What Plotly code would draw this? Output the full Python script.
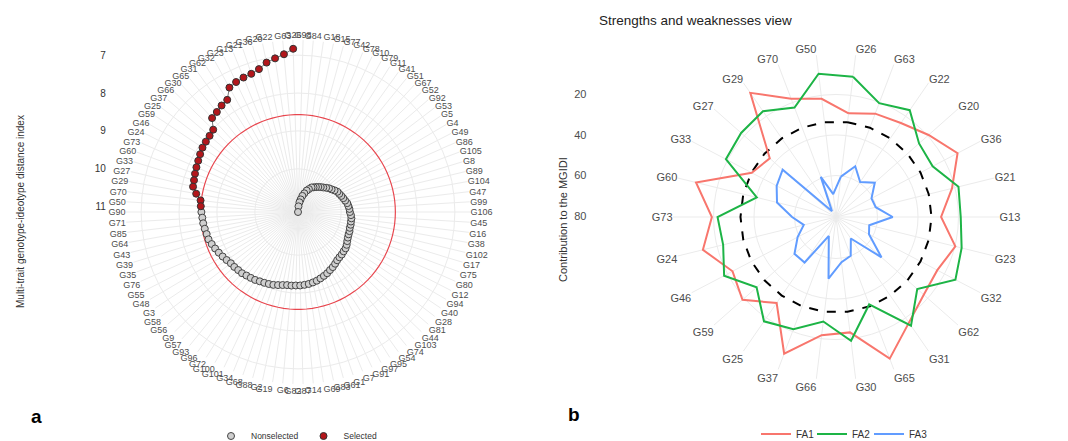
import plotly.graph_objects as go

# ---------------- Panel a : MGIDI (genotypes in plotting order) ----------------
selected_genotypes = ["G26", "G63", "G22", "G20", "G36", "G21", "G13", "G23", "G32", "G62",
                      "G31", "G65", "G30", "G66", "G37", "G25", "G59", "G46", "G24", "G73",
                      "G60", "G33", "G27", "G29", "G70", "G50"]
selected_mgidi = [6.83, 6.96, 7.04, 7.11, 7.23, 7.29, 7.31, 7.34, 7.39, 7.64,
                  7.68, 7.74, 7.78, 8.02, 8.06, 8.08, 8.10, 8.14, 8.18, 8.21,
                  8.24, 8.27, 8.29, 8.41, 8.55, 8.57]

nonselected_genotypes = ["G90", "G71", "G85", "G64", "G43", "G39", "G35", "G76", "G55", "G48",
                         "G3", "G58", "G56", "G9", "G57", "G93", "G96", "G72", "G100",
                         "G101", "G34", "G68", "G88", "G2", "G19", "G6", "G82", "G87", "G14",
                         "G69", "G83", "G61",
                         "G1", "G7", "G91", "G97", "G95", "G54", "G74", "G103", "G44", "G81",
                         "G28", "G40", "G94", "G12", "G80", "G75", "G17", "G102", "G38", "G16",
                         "G45", "G106", "G99", "G47", "G104", "G89", "G8", "G105", "G86", "G49",
                         "G4", "G5", "G53", "G92", "G52", "G67", "G51", "G41", "G11", "G79",
                         "G10", "G78", "G42", "G77", "G15", "G18", "G84", "G98"]
nonselected_mgidi = [8.59, 8.61, 8.62, 8.64, 8.66, 8.67, 8.71, 8.75, 8.79, 8.83,
                     8.87, 8.91, 8.92, 8.94, 8.95, 8.98, 9.00, 9.02, 9.05, 9.07,
                     9.09, 9.11, 9.14, 9.17, 9.19, 9.19, 9.20, 9.20, 9.21, 9.22,
                     9.24, 9.26, 9.29, 9.32, 9.35, 9.39, 9.42, 9.46, 9.50, 9.52,
                     9.53, 9.55, 9.56, 9.59, 9.63, 9.66, 9.68, 9.69, 9.71, 9.71,
                     9.72, 9.72, 9.74, 9.77, 9.78, 9.80, 9.82, 9.86, 9.89, 9.92,
                     9.95, 9.97, 10.02, 10.07, 10.11, 10.16, 10.21, 10.25, 10.29, 10.33,
                     10.37, 10.40, 10.47, 10.53, 10.62, 10.70, 10.80, 10.88, 10.99, 11.14]
mgidi_ticks = [7, 8, 9, 10, 11]

# ---------------- Panel b : strengths and weaknesses ----------------
sw_genotypes = ["G26", "G63", "G22", "G20", "G36", "G21", "G13", "G23", "G32", "G62",
                "G31", "G65", "G30", "G66", "G37", "G25", "G59", "G46", "G24", "G73",
                "G60", "G33", "G27", "G29", "G70", "G50"]
fa1 = [28.9, 25.9, 24.1, 19.4, 12.7, 21.5, 28.6, 19.8, 24.0, 22.6,
       17.1, 5.7, 23.1, 21.7, 8.3, 28.9, 18.8, 22.8, 12.8, 19.2,
       9.3, 33.5, 36.8, 6.0, 18.0, 21.7]
fa2 = [10.7, 20.4, 16.4, 25.7, 26.6, 18.2, 18.9, 16.6, 13.9, 26.9,
       15.3, 34.3, 18.9, 28.5, 21.2, 17.9, 28.1, 18.1, 23.1, 22.0,
       40.2, 19.1, 17.9, 17.0, 22.7, 9.2]
fa3 = [60.4, 53.7, 59.5, 54.9, 60.7, 60.3, 52.5, 63.6, 62.1, 50.5,
       67.6, 60.0, 58.0, 49.8, 70.5, 53.2, 53.1, 59.1, 64.1, 58.8,
       50.5, 47.4, 45.3, 77.0, 59.3, 69.1]
factor_names = ["FA1", "FA2", "FA3"]
factor_colors = ["#F8766D", "#1DB446", "#619CFF"]
equal_contribution = 100 / 3
contrib_ticks = [20, 40, 60, 80]

W, H = 1068, 441
all_genotypes = selected_genotypes + nonselected_genotypes
all_mgidi = selected_mgidi + nonselected_mgidi
cutoff = max(selected_mgidi)

fig = go.Figure()

# path through all genotypes
fig.add_trace(go.Scatterpolar(r=all_mgidi, theta=all_genotypes, mode="lines",
                              line=dict(color="#555555", width=0.8), subplot="polar",
                              showlegend=False, hoverinfo="skip"))
# cutoff circle
fig.add_trace(go.Scatterpolar(r=[cutoff] * (len(all_genotypes) + 1),
                              theta=all_genotypes + [all_genotypes[0]], mode="lines",
                              line=dict(color="#E8474F", width=1.2), subplot="polar",
                              showlegend=False, hoverinfo="skip"))
fig.add_trace(go.Scatterpolar(r=nonselected_mgidi, theta=nonselected_genotypes, mode="markers",
                              name="Nonselected", subplot="polar", legend="legend",
                              marker=dict(size=7, color="#cfcfcf",
                                          line=dict(color="#444444", width=1))))
fig.add_trace(go.Scatterpolar(r=selected_mgidi, theta=selected_genotypes, mode="markers",
                              name="Selected", subplot="polar", legend="legend",
                              marker=dict(size=7, color="#B3161B",
                                          line=dict(color="#333333", width=1))))

# panel b
fig.add_trace(go.Scatterpolar(r=[equal_contribution] * (len(sw_genotypes) + 1),
                              theta=sw_genotypes + [sw_genotypes[0]], mode="lines",
                              line=dict(color="black", width=2, dash="dash"),
                              subplot="polar2", showlegend=False, hoverinfo="skip"))
factor_legends = ["legend2", "legend3", "legend4"]
for name, vals, col, lg in zip(factor_names, [fa1, fa2, fa3], factor_colors, factor_legends):
    fig.add_trace(go.Scatterpolar(r=vals + [vals[0]], theta=sw_genotypes + [sw_genotypes[0]],
                                  mode="lines", name=name, line=dict(color=col, width=2),
                                  subplot="polar2", legend=lg))

# dummy traces for radial-label axes
fig.add_trace(go.Scatter(x=[], y=[], xaxis="x", yaxis="y", showlegend=False))
fig.add_trace(go.Scatter(x=[], y=[], xaxis="x2", yaxis="y2", showlegend=False))

# geometry (pixels)
cxa, cya, ra = 298, 212, 172
cxb, cyb, rb = 836, 217, 163

grid = "#ebebeb"


def small_legend(x_px, y_px, size):
    return dict(orientation="h", x=x_px / W, xanchor="left", y=(H - y_px) / H,
                yanchor="middle", font=dict(size=size, color="#333333"),
                bgcolor="rgba(0,0,0,0)")


fig.update_layout(
    width=W, height=H, margin=dict(l=0, r=0, t=0, b=0, autoexpand=False),
    paper_bgcolor="white", plot_bgcolor="white",
    font=dict(family="Liberation Sans, Arial, sans-serif", color="#4d4d4d"),
    polar=dict(
        domain=dict(x=[(cxa - ra) / W, (cxa + ra) / W],
                    y=[(H - cya - ra) / H, (H - cya + ra) / H]),
        bgcolor="white",
        radialaxis=dict(range=[11.14, 6.6], tickvals=mgidi_ticks, showticklabels=False,
                        ticks="", showline=False, gridcolor=grid, gridwidth=1),
        angularaxis=dict(type="category", categoryorder="array", categoryarray=all_genotypes,
                         direction="counterclockwise", rotation=90 + 180 / len(all_genotypes),
                         showline=False, ticks="", gridcolor=grid, gridwidth=0.6,
                         tickfont=dict(size=9, color="#4d4d4d")),
    ),
    polar2=dict(
        domain=dict(x=[(cxb - rb) / W, (cxb + rb) / W],
                    y=[(H - cyb - rb) / H, (H - cyb + rb) / H]),
        bgcolor="white",
        radialaxis=dict(range=[80.5, 0], tickvals=[0, 20, 40, 60], showticklabels=False,
                        ticks="", showline=False, gridcolor=grid, gridwidth=1.2),
        angularaxis=dict(type="category", categoryorder="array", categoryarray=sw_genotypes,
                         direction="clockwise", rotation=90 - 180 / len(sw_genotypes),
                         showline=False, ticks="", gridcolor=grid, gridwidth=1.2,
                         tickfont=dict(size=11, color="#4d4d4d")),
    ),
    xaxis=dict(domain=[0.1, 0.101], visible=False, fixedrange=True, anchor="y"),
    yaxis=dict(domain=[(H - cya) / H, (H - cya + ra) / H], range=[11.14, 6.6], anchor="x",
               tickvals=mgidi_ticks, showgrid=False, zeroline=False, showline=False,
               ticks="", tickfont=dict(size=10, color="#333333"), fixedrange=True),
    xaxis2=dict(domain=[0.550, 0.551], visible=False, fixedrange=True, anchor="y2"),
    yaxis2=dict(domain=[(H - cyb) / H, (H - cyb + rb) / H], range=[80.5, 0], anchor="x2",
                tickvals=contrib_ticks, showgrid=False, zeroline=False, showline=False,
                ticks="", tickfont=dict(size=11, color="#4d4d4d"), fixedrange=True),
    legend=small_legend(211, 436, 8.5),
    legend2=small_legend(756, 434, 10),
    legend3=small_legend(812, 434, 10),
    legend4=small_legend(869, 434, 10),
    annotations=[
        dict(text="Multi-trait genotype-ideotype distance index", x=20 / W, y=(H - 212) / H,
             xref="paper", yref="paper", xanchor="center", yanchor="middle",
             textangle=-90, showarrow=False, font=dict(size=10, color="#333333")),
        dict(text="Contribution to the MGIDI", x=563 / W, y=(H - 220) / H,
             xref="paper", yref="paper", xanchor="center", yanchor="middle",
             textangle=-90, showarrow=False, font=dict(size=11, color="#333333")),
        dict(text="Strengths and weaknesses view", x=597 / W, y=(H - 20) / H,
             xref="paper", yref="paper", xanchor="left", yanchor="middle", showarrow=False,
             font=dict(size=13.5, color="#222222")),
        dict(text="<b>a</b>", x=36 / W, y=(H - 416) / H, xref="paper", yref="paper",
             xanchor="center", yanchor="middle",
             showarrow=False, font=dict(size=19, color="black")),
        dict(text="<b>b</b>", x=574 / W, y=(H - 414) / H, xref="paper", yref="paper",
             xanchor="center", yanchor="middle",
             showarrow=False, font=dict(size=19, color="black")),
    ],
)

fig.write_html("out.html", config={"displayModeBar": False},
               post_script="document.body.style.margin='0px';")
